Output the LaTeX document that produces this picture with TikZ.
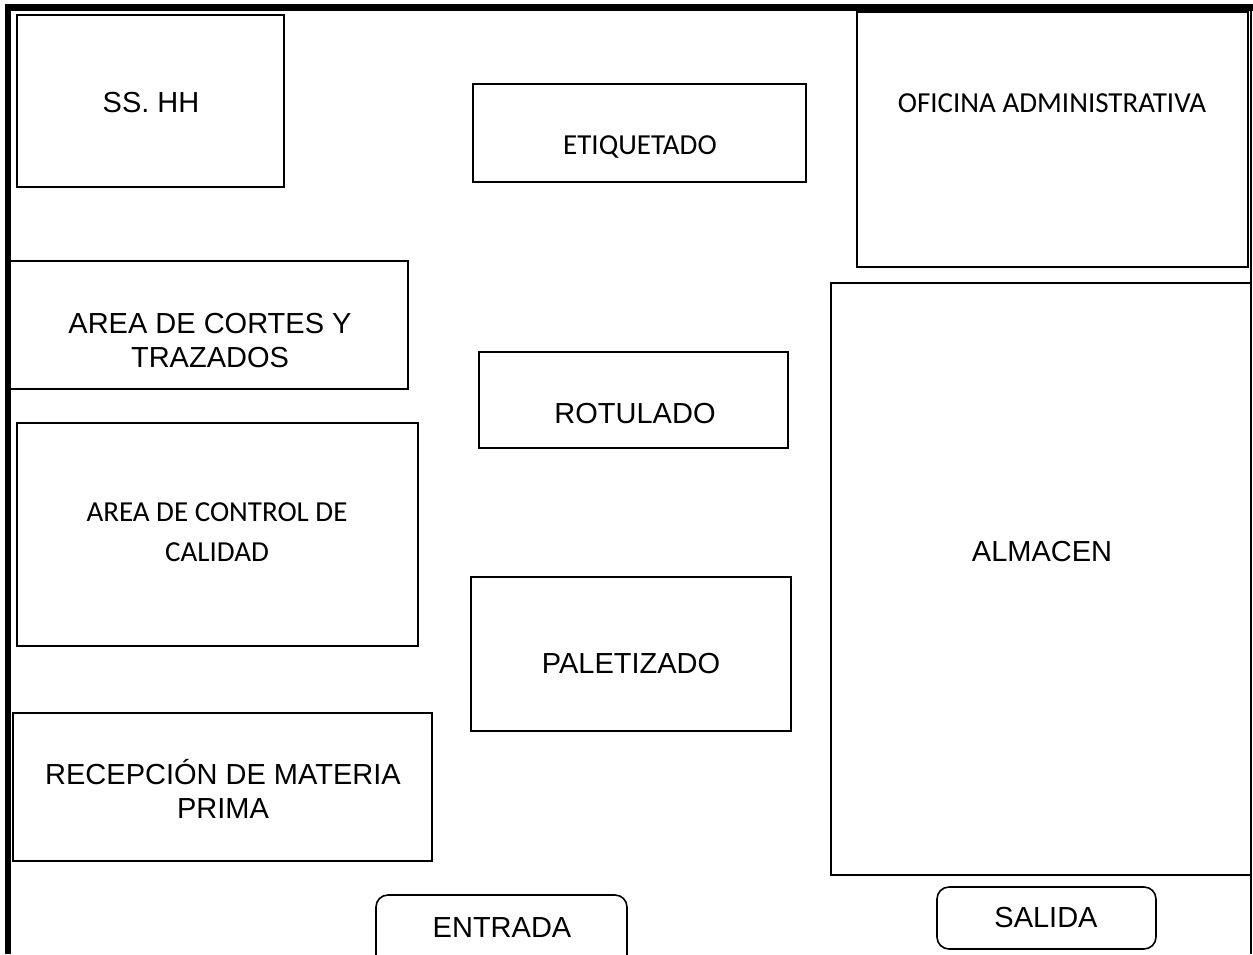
\documentclass[tikz,border=0pt]{standalone}
\usepackage{fontspec}
\setmainfont{Liberation Sans}
\newfontfamily\calibri{Carlito}
\tikzset{
  room/.style={draw, line width=1pt},
  door/.style={draw, line width=0.8pt, rounded corners=6pt},
  lbl/.style={anchor=base, align=center, inner sep=0pt, font=\fontsize{14.5}{17}\selectfont},
  clbl/.style={lbl, font=\calibri\fontsize{14.5}{20}\selectfont}
}
\begin{document}
\begin{tikzpicture}[x=0.5pt,y=-0.5pt]
        \useasboundingbox (0,0) rectangle (1253,954);
        \clip (0,0) rectangle (1253,954);
        \draw[line width=3.2pt] (8,954) -- (8,7.5) -- (1253,7.5);
        \draw[line width=0.8pt] (1251,7) -- (1251,954);
        \draw[room] (17,15) rectangle (284,187);
        \draw[room] (473,84) rectangle (806,182);
        \draw[room] (857,12) rectangle (1248,267);
        \draw[room] (10,261) rectangle (408,389);
        \draw[room] (479,352) rectangle (788,448);
        \draw[room] (17,423) rectangle (418,646);
        \draw[room] (471,577) rectangle (791,731);
        \draw[room] (13,713) rectangle (432,861);
        \draw[room] (831,283) rectangle (1251,875);
        \draw[door] (376,895) rectangle (627,985);
        \draw[door] (937,887) rectangle (1156,949);
        \node[lbl] (sshh) at (151,112) {SS. HH};
        \node[clbl] (etiquetado) at (640,154) {ETIQUETADO};
        \node[clbl] (oficina) at (1052,112) {OFICINA ADMINISTRATIVA};
        \node[lbl] (cortes) at (210,367) {AREA DE CORTES Y\\TRAZADOS};
        \node[lbl] (rotulado) at (635,423) {ROTULADO};
        \node[clbl] (calidad) at (217,561) {AREA DE CONTROL DE\\CALIDAD};
        \node[lbl] (paletizado) at (631,673) {PALETIZADO};
        \node[lbl] (recepcion) at (223,818) {RECEPCIÓN DE MATERIA\\PRIMA};
        \node[lbl] (almacen) at (1042,561) {ALMACEN};
        \node[lbl] (entrada) at (502,937) {ENTRADA};
        \node[lbl] (salida) at (1046,927) {SALIDA};
        \end{tikzpicture}
\end{document}
